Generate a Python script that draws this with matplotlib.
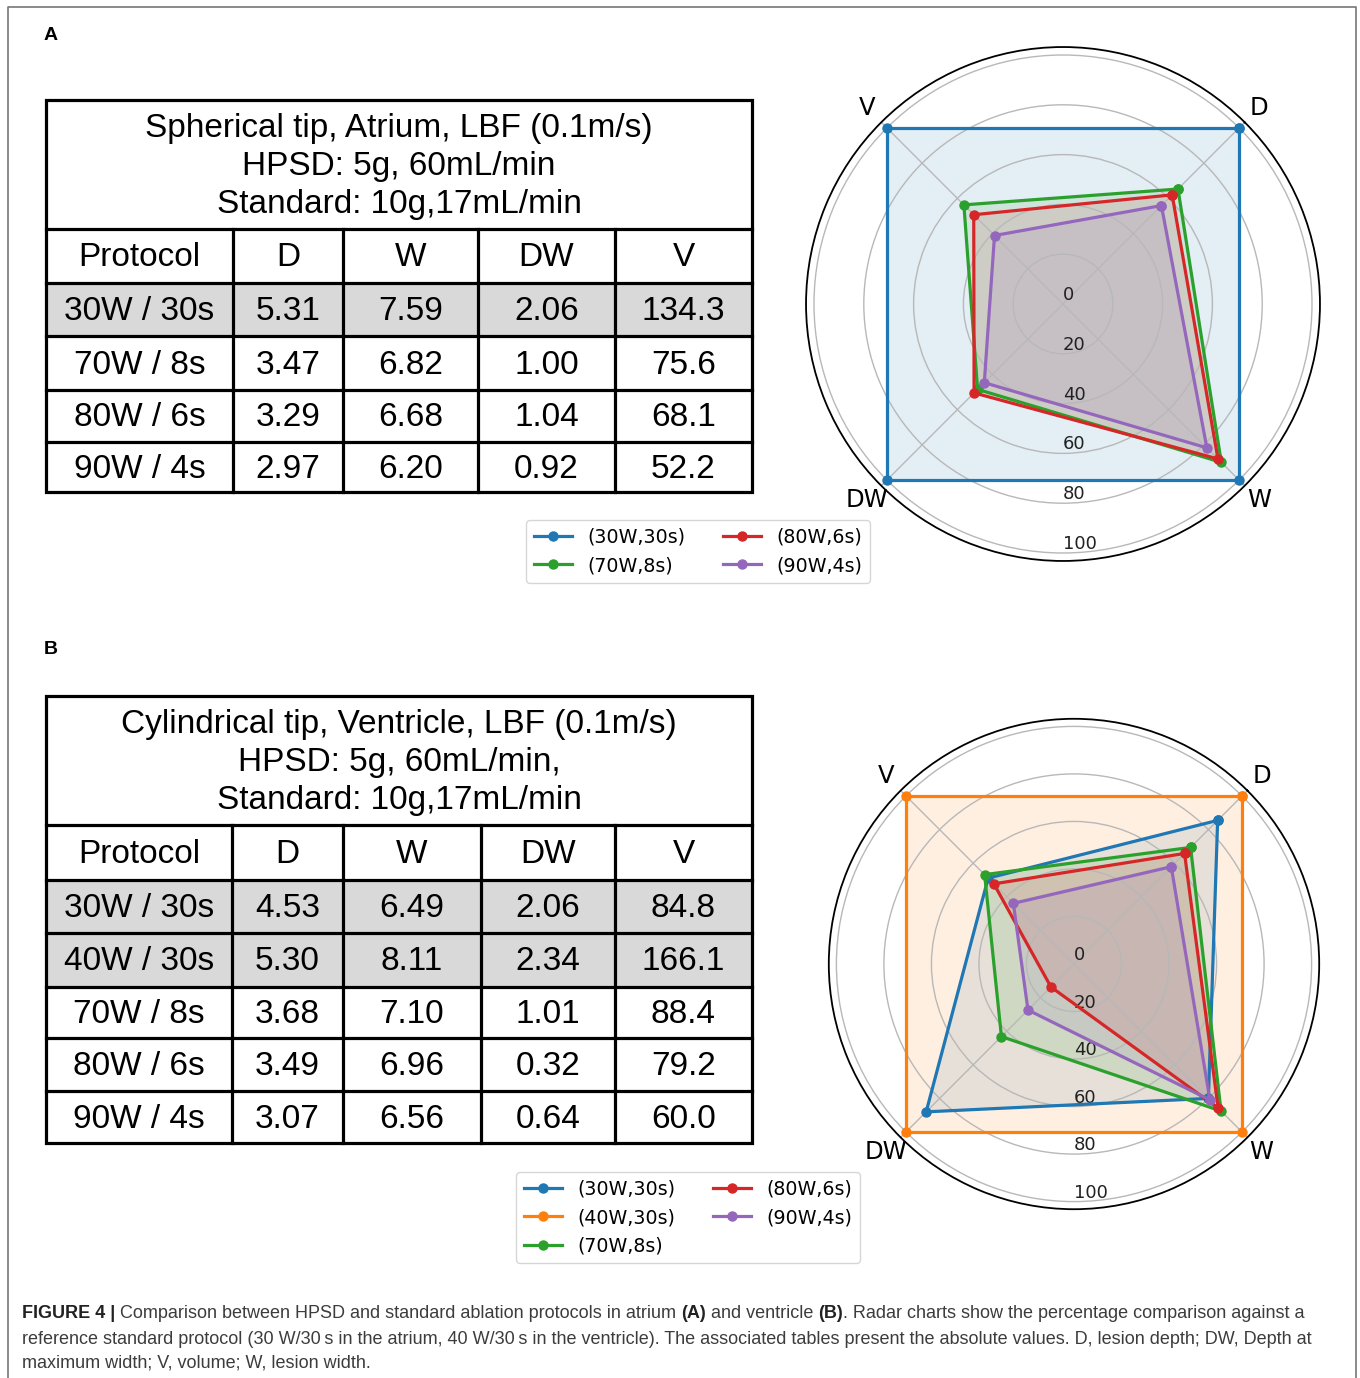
import matplotlib.pyplot as plt
from matplotlib.patches import Rectangle
import numpy as np

W_PX, H_PX = 1360, 1378

# ---------------- data ----------------
metrics = ["D", "W", "DW", "V"]
header = ["Protocol", "D", "W", "DW", "V"]

# panel A table
a_title = ["Spherical tip, Atrium, LBF (0.1m/s)", "HPSD: 5g, 60mL/min", "Standard: 10g,17mL/min"]
a_protocols = ["30W / 30s", "70W / 8s", "80W / 6s", "90W / 4s"]
a_D = [5.31, 3.47, 3.29, 2.97]
a_W = [7.59, 6.82, 6.68, 6.20]
a_DW = [2.06, 1.00, 1.04, 0.92]
a_V = [134.3, 75.6, 68.1, 52.2]
a_ref_rows = [0]

# panel A radar (% of 30W/30s), order D, W, DW, V
a_series = ["(30W,30s)", "(70W,8s)", "(80W,6s)", "(90W,4s)"]
a_colors = ["C0", "C2", "C3", "C4"]
a_30w30s = [100, 100, 100, 100]
a_70w8s = [65.3, 89.9, 48.5, 56.3]
a_80w6s = [62.0, 88.0, 50.5, 50.7]
a_90w4s = [55.9, 81.7, 44.7, 38.9]

# panel B table
b_title = ["Cylindrical tip, Ventricle, LBF (0.1m/s)", "HPSD: 5g, 60mL/min,", "Standard: 10g,17mL/min"]
b_protocols = ["30W / 30s", "40W / 30s", "70W / 8s", "80W / 6s", "90W / 4s"]
b_D = [4.53, 5.30, 3.68, 3.49, 3.07]
b_W = [6.49, 8.11, 7.10, 6.96, 6.56]
b_DW = [2.06, 2.34, 1.01, 0.32, 0.64]
b_V = [84.8, 166.1, 88.4, 79.2, 60.0]
b_ref_rows = [0, 1]

# panel B radar (% of 40W/30s)
b_series = ["(30W,30s)", "(40W,30s)", "(70W,8s)", "(80W,6s)", "(90W,4s)"]
b_colors = ["C0", "C1", "C2", "C3", "C4"]
b_30w30s = [85.5, 80.0, 88.0, 51.1]
b_40w30s = [100, 100, 100, 100]
b_70w8s = [69.4, 87.5, 43.2, 53.2]
b_80w6s = [65.8, 85.8, 13.7, 47.7]
b_90w4s = [57.9, 80.9, 27.4, 36.1]

r_ticks = [0, 20, 40, 60, 80, 100]

caption_lines = [
    [("FIGURE 4 | ", "bold"), ("Comparison between HPSD and standard ablation protocols in atrium ", "normal"),
     ("(A)", "bold"), (" and ventricle ", "normal"), ("(B)", "bold"),
     (". Radar charts show the percentage comparison against a", "normal")],
    [("reference standard protocol (30 W/30\u2009s in the atrium, 40 W/30\u2009s in the ventricle). "
      "The associated tables present the absolute values. D, lesion depth; DW, Depth at", "normal")],
    [("maximum width; V, volume; W, lesion width.", "normal")],
]

# ---------------- figure ----------------
fig = plt.figure(figsize=(13.6, 13.78), dpi=100)
bg = fig.add_axes([0, 0, 1, 1])
bg.set_xlim(0, W_PX)
bg.set_ylim(H_PX, 0)
bg.axis("off")

TAB_FONT = ["Liberation Sans", "DejaVu Sans"]

# outer frame (open at the bottom)
bg.plot([8, 8, 1356, 1356], [H_PX, 7, 7, H_PX], color="#777777", lw=1.2)

bg.text(44, 36, "A", fontsize=14, fontweight="bold", family=TAB_FONT, va="center")
bg.text(44, 649, "B", fontsize=14, fontweight="bold", family=TAB_FONT, va="center")


def draw_table(x_edges, top, title_bottom, row_edges, title, title_ys, protocols, cols, ref_rows):
    lw = 2.3
    x0, x1 = x_edges[0], x_edges[-1]
    # gray reference rows
    for r in ref_rows:
        bg.add_patch(Rectangle((x0, row_edges[r + 1]), x1 - x0, row_edges[r + 2] - row_edges[r + 1],
                               facecolor="#d9d9d9", edgecolor="none"))
    # outer box
    bg.add_patch(Rectangle((x0, top), x1 - x0, row_edges[-1] - top, fill=False,
                           edgecolor="black", lw=lw))
    # horizontal lines
    for y in row_edges[:-1]:
        bg.plot([x0, x1], [y, y], color="black", lw=lw)
    # vertical lines
    for x in x_edges[1:-1]:
        bg.plot([x, x], [title_bottom, row_edges[-1]], color="black", lw=lw)
    # title
    for line, y in zip(title, title_ys):
        bg.text((x0 + x1) / 2, y, line, fontsize=24, family=TAB_FONT, ha="center", va="center")
    # header + body
    centers = [(x_edges[i] + x_edges[i + 1]) / 2 for i in range(len(x_edges) - 1)]
    rows = [header] + [[p, f"{d:.2f}", f"{w:.2f}", f"{dw:.2f}", f"{v:.1f}"]
                       for p, d, w, dw, v in zip(protocols, *cols)]
    for i, row in enumerate(rows):
        yc = (row_edges[i] + row_edges[i + 1]) / 2 + 2
        for xc, s in zip(centers, row):
            bg.text(xc, yc, s, fontsize=24, family=TAB_FONT, ha="center", va="center")


draw_table([46, 233, 343, 478, 615, 752], 100, 229, [229, 283, 336, 390, 442, 492],
           a_title, [128, 166, 204], a_protocols, [a_D, a_W, a_DW, a_V], a_ref_rows)
draw_table([46, 232, 343, 481, 615, 752], 696, 825, [825, 880, 933, 987, 1038, 1091, 1143],
           b_title, [724, 762, 801], b_protocols, [b_D, b_W, b_DW, b_V], b_ref_rows)


def radar(cx, cy, r100, series, values, colors, leg_x, leg_y):
    rmax = 103.2
    r_px = r100 * rmax / 100
    ax = fig.add_axes([(cx - r_px) / W_PX, 1 - (cy + r_px) / H_PX, 2 * r_px / W_PX, 2 * r_px / H_PX],
                      polar=True)
    ax.set_theta_offset(np.pi / 4)
    ax.set_theta_direction(-1)
    theta = np.arange(len(metrics)) * 2 * np.pi / len(metrics)
    t = np.append(theta, theta[0])
    for name, vals, c in zip(series, values, colors):
        v = list(vals) + [vals[0]]
        ax.plot(t, v, color=c, lw=2.3, marker="o", ms=6.5, label=name)
        ax.fill(t, v, color=c, alpha=0.12, lw=0)
    ax.set_ylim(0, rmax)
    ax.set_xticks(theta)
    ax.set_xticklabels(metrics, fontsize=17.5)
    ax.tick_params(axis="x", pad=4)
    ax.set_yticks(r_ticks)
    ax.set_yticklabels([str(r) for r in r_ticks], fontsize=13, color="#222222")
    ax.set_rlabel_position(135)
    ax.grid(color="#b8b8b8", lw=1)
    ax.spines["polar"].set_linewidth(1.3)
    ax.legend(loc="upper center", bbox_to_anchor=(leg_x / W_PX, 1 - leg_y / H_PX),
              bbox_transform=fig.transFigure, ncol=2, fontsize=13.7, borderaxespad=0,
              columnspacing=2.0)
    return ax


radar(1063, 304, 249, a_series, [a_30w30s, a_70w8s, a_80w6s, a_90w4s], a_colors, 698, 520)
radar(1074, 964, 237.6, b_series, [b_30w30s, b_40w30s, b_70w8s, b_80w6s, b_90w4s], b_colors, 688, 1172)

# ---------------- caption ----------------
renderer = fig.canvas.get_renderer()


def run_width(s, weight, size):
    t1 = bg.text(0, 0, "|" + s + "|", fontsize=size, fontweight=weight, family=TAB_FONT)
    t2 = bg.text(0, 0, "||", fontsize=size, fontweight=weight, family=TAB_FONT)
    w = t1.get_window_extent(renderer).width - t2.get_window_extent(renderer).width
    t1.remove()
    t2.remove()
    return w


base = 12.0
w2 = sum(run_width(s, wt, base) for s, wt in caption_lines[1])
cap_size = base * 1291 / w2
cap_ys = [1314, 1339, 1363]
for runs, y in zip(caption_lines, cap_ys):
    x = 22
    for s, wt in runs:
        bg.text(x, y, s, fontsize=cap_size, fontweight=wt, family=TAB_FONT, va="center",
                color="#222222" if wt == "bold" else "#3c3c3c")
        x += run_width(s, wt, cap_size)

fig.savefig("out.png", dpi=100)
